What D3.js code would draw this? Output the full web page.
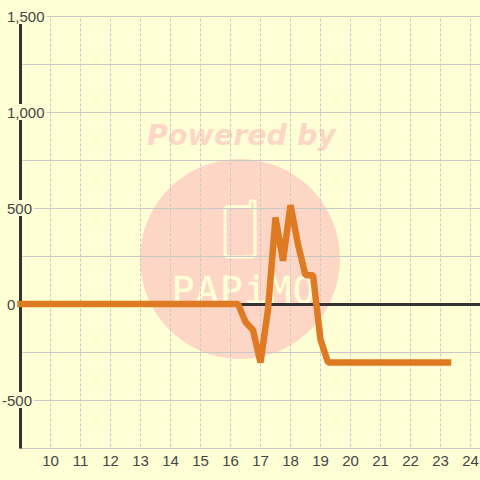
<!DOCTYPE html>
<html>
<head>
<meta charset="utf-8">
<script src="https://cdn.jsdelivr.net/npm/d3@7/dist/d3.min.js"></script>
<style>
	html, body { margin: 0; padding: 0; background: #ffffd5; }
	svg { display: block; }
	text { font-family: "Liberation Sans", sans-serif; }
</style>
</head>
<body>
<div id="js-chart"></div>
<script>
// hours, one reading every 15 minutes
const hours = [
	9, 9.25, 9.5, 9.75, 10, 10.25, 10.5, 10.75, 11, 11.25, 11.5, 11.75,
	12, 12.25, 12.5, 12.75, 13, 13.25, 13.5, 13.75, 14, 14.25, 14.5, 14.75,
	15, 15.25, 15.5, 15.75, 16, 16.25, 16.5, 16.75, 17, 17.25, 17.5, 17.75,
	18, 18.25, 18.5, 18.75, 19, 19.25, 19.5, 19.75, 20, 20.25, 20.5, 20.75,
	21, 21.25, 21.5, 21.75, 22, 22.25, 22.5, 22.75, 23, 23.25
];
const values = [
	0, 0, 0, 0, 0, 0, 0, 0, 0, 0, 0, 0,
	0, 0, 0, 0, 0, 0, 0, 0, 0, 0, 0, 0,
	0, 0, 0, 0, 0, 0, -94, -135, -305, -30, 450, 225,
	515, 310, 150, 150, -185, -305, -305, -305, -305, -305, -305, -305,
	-305, -305, -305, -305, -305, -305, -305, -305, -305, -305
];
const xTicks = [10, 11, 12, 13, 14, 15, 16, 17, 18, 19, 20, 21, 22, 23, 24];
const yGrid = [-750, -500, -250, 0, 250, 500, 750, 1000, 1250, 1500];
const yLabels = [-500, 0, 500, 1000, 1500];

const width = 480, height = 480;
const x = d3.scaleLinear().domain([9, 25]).range([20.5, 500.5]);
const y = d3.scaleLinear().domain([-750, 1500]).range([448.5, 16.5]);

const svg = d3.select('#js-chart').append('svg')
	.attr('width', width)
	.attr('height', height);

svg.append('rect')
	.attr('width', width)
	.attr('height', height)
	.attr('fill', '#ffffd5');

// watermark
const mark = svg.append('g').attr('class', 'watermark');
mark.append('circle')
	.attr('cx', 240).attr('cy', 259).attr('r', 100)
	.attr('fill', '#fed6c5');
mark.append('text')
	.attr('x', 241.5).attr('y', 145)
	.attr('text-anchor', 'middle')
	.style('font-family', '"DejaVu Sans"')
	.style('font-weight', 'bold')
	.style('font-style', 'italic')
	.style('font-size', '28.5px')
	.attr('fill', '#fed6c5')
	.text('Powered by');
mark.append('path')
	.attr('d', 'M229 206.500H250V202.500Q250 200.500 252.500 200.500Q255 200.500 255 202.500V253Q255 257 251 257H229Q225 257 225 253V210.500Q225 206.500 229 206.500Z')
	.attr('fill', 'none')
	.attr('stroke', '#ffffd5')
	.attr('stroke-width', 3);
mark.append('text')
	.attr('x', 243.5).attr('y', 303)
	.attr('text-anchor', 'middle')
	.style('font-family', '"DejaVu Sans Mono"')
	.style('font-size', '38px')
	.attr('textLength', 144)
	.attr('fill', '#ffffd5')
	.attr('stroke', '#ffffd5')
	.attr('stroke-width', 0.4)
	.text('PAPiMO');

// grid
svg.append('g').selectAll('line')
	.data(yGrid)
	.enter().append('line')
	.attr('x1', 20).attr('x2', width)
	.attr('y1', d => y(d)).attr('y2', d => y(d))
	.attr('stroke', '#c8c8c8')
	.attr('stroke-width', 1);

svg.append('g').selectAll('line')
	.data(xTicks)
	.enter().append('line')
	.attr('x1', d => x(d)).attr('x2', d => x(d))
	.attr('y1', y(1500)).attr('y2', y(-750))
	.attr('stroke', '#c8c8c8')
	.attr('stroke-dasharray', '3,2')
	.attr('stroke-dashoffset', 3);

// axis lines
svg.append('line')
	.attr('x1', 20.5).attr('x2', 20.5)
	.attr('y1', y(1500)).attr('y2', y(-750))
	.attr('stroke', '#333333')
	.attr('stroke-width', 3);
svg.append('line')
	.attr('x1', 20).attr('x2', width)
	.attr('y1', y(0)).attr('y2', y(0))
	.attr('stroke', '#333333')
	.attr('stroke-width', 3);

// y labels sit on a plain box that cuts the axis and grid
const fmt = d3.format(',');
const labels = svg.append('g').selectAll('g')
	.data(yLabels)
	.enter().append('g');
labels.append('text')
	.attr('x', d => d < 0 ? 2 : 7)
	.attr('y', d => y(d) + 5)
	.style('font-size', '15px')
	.attr('fill', '#444444')
	.text(d => fmt(d).replace('\u2212', '-'));
labels.insert('rect', 'text')
	.each(function () {
		const box = this.parentNode.querySelector('text').getBBox();
		d3.select(this)
			.attr('x', 0)
			.attr('y', box.y + box.height / 2 - 8)
			.attr('width', box.x + box.width + 2)
			.attr('height', 16)
			.attr('fill', '#ffffd5');
	});

svg.append('g').selectAll('text')
	.data(xTicks)
	.enter().append('text')
	.attr('x', d => x(d))
	.attr('y', 466)
	.attr('text-anchor', 'middle')
	.style('font-size', '15px')
	.attr('fill', '#444444')
	.text(d => d);

// series
const line = d3.line()
	.x((d, i) => x(hours[i]))
	.y(d => y(d));

svg.append('path')
	.datum(values)
	.attr('d', line)
	.attr('transform', 'translate(0,-0.5)')
	.attr('fill', 'none')
	.attr('stroke', '#dd7a22')
	.attr('stroke-width', 6.5)
	.attr('stroke-linejoin', 'bevel')
	.attr('stroke-linecap', 'square');
</script>
</body>
</html>
